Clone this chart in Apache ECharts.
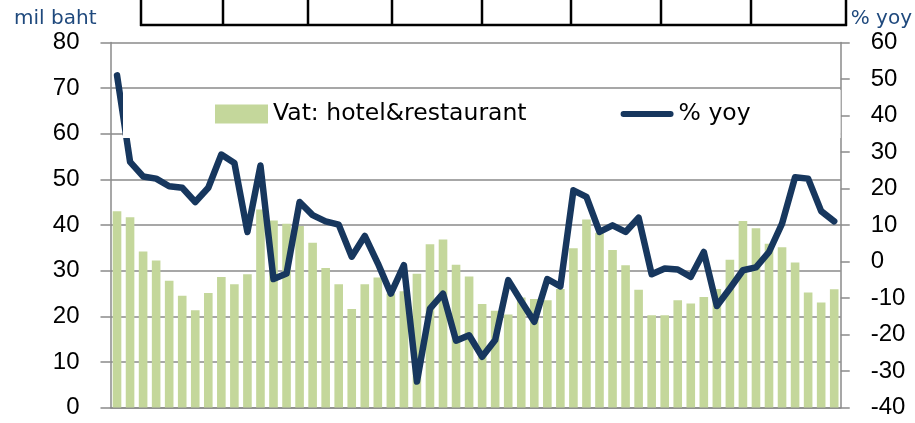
<!DOCTYPE html>
<html>
<head>
<meta charset="utf-8">
<script src="https://cdn.jsdelivr.net/npm/echarts@6/dist/echarts.min.js"></script>
<style>
  html, body { margin: 0; padding: 0; background: #ffffff; }
  #chart { width: 915px; height: 423px; }
</style>
</head>
<body>
<div id="chart"></div>
<script>
// monthly VAT collection, hotel & restaurant (mil baht) and growth (% yoy)
const vat = [43.0, 41.7, 34.2, 32.2, 27.8, 24.5, 21.3, 25.1, 28.6, 27.0,
  29.2, 43.4, 41.0, 40.3, 39.8, 36.1, 30.6, 27.0, 21.6, 27.0,
  28.5, 25.0, 25.5, 29.3, 35.8, 36.8, 31.3, 28.7, 22.7, 21.2,
  20.4, 24.1, 23.8, 23.5, 26.0, 34.9, 41.2, 38.3, 34.5, 31.2,
  25.8, 20.2, 20.2, 23.5, 22.8, 24.2, 26.0, 32.4, 40.9, 39.3,
  35.9, 35.1, 31.8, 25.2, 23.0, 25.9]
const yoy = [51.0, 27.3, 23.3, 22.7, 20.6, 20.2, 16.3, 20.2, 29.3, 27.0,
  8.1, 26.3, -4.8, -3.3, 16.3, 12.7, 11.0, 10.1, 1.3, 7.0,
  -0.5, -8.8, -1.0, -32.9, -12.9, -8.8, -21.7, -20.2, -26.1, -21.5,
  -5.1, -10.9, -16.5, -4.8, -6.8, 19.5, 17.7, 8.1, 9.9, 8.1,
  12.0, -3.5, -1.9, -2.2, -4.2, 2.6, -12.2, -7.4, -2.4, -1.6,
  2.6, 10.4, 23.1, 22.7, 13.8, 11.0]

// month labels (not shown on the axis)
const months = ['Jan', 'Feb', 'Mar', 'Apr', 'May', 'Jun', 'Jul', 'Aug', 'Sep', 'Oct', 'Nov', 'Dec']
const categories = vat.map((v, i) => months[i % 12] + '-' + (14 + Math.floor(i / 12)))

const leftTicks = { min: 0, max: 80, interval: 10 }
const rightTicks = { min: -40, max: 60, interval: 10 }

const gray = '#8a8a8a'
const navy = '#17375e'
const numFont = { fontFamily: 'Liberation Sans', fontSize: 24, color: '#000' }

// header table lines cut off at the top of the picture
const tableCols = [141, 223, 308, 392, 482, 571, 661, 751, 846]
const tableLines = tableCols.map(x => ({
  type: 'line',
  shape: { x1: x, y1: 0, x2: x, y2: 26 },
  style: { stroke: '#000', lineWidth: 2.5 }
}))
tableLines.push({
  type: 'line',
  shape: { x1: 140, y1: 25, x2: 847, y2: 25 },
  style: { stroke: '#000', lineWidth: 2.5 }
})

const chart = echarts.init(document.getElementById('chart'))
chart.setOption({
  animation: false,
  backgroundColor: '#ffffff',
  graphic: tableLines,
  grid: { left: 110.5, right: 74, top: 42.5, bottom: 15.5 },
  legend: {
    left: 123,
    top: 90,
    padding: [12, 90, 12, 92],
    backgroundColor: '#ffffff',
    itemGap: 94,
    itemWidth: 53,
    itemHeight: 19,
    textStyle: { fontFamily: 'DejaVu Sans', fontSize: 23.5, color: '#000' },
    data: [
      { name: 'Vat: hotel&restaurant', icon: 'rect' },
      { name: '% yoy', icon: 'path://M3,0 L50,0 A3,3 0 0 1 50,6 L3,6 A3,3 0 0 1 3,0 Z' }
    ]
  },
  xAxis: {
    type: 'category',
    data: categories,
    axisLine: { lineStyle: { color: gray, width: 1.5 } },
    axisTick: { interval: 5, length: 9, lineStyle: { color: gray, width: 1.5 } },
    axisLabel: { show: false }
  },
  yAxis: [
    {
      type: 'value',
      ...leftTicks,
      name: 'mil baht',
      nameLocation: 'end',
      nameGap: 14,
      nameTextStyle: {
        fontFamily: 'DejaVu Sans', fontSize: 20, color: '#1f497d',
        align: 'right', padding: [0, 14, 0, 0]
      },
      axisLine: { show: true, lineStyle: { color: gray, width: 1.5 } },
      axisTick: { show: true, length: 10, lineStyle: { color: gray, width: 1.5 } },
      axisLabel: { ...numFont, margin: 31 },
      splitLine: { show: true, lineStyle: { color: gray, width: 1.5 } }
    },
    {
      type: 'value',
      position: 'right',
      ...rightTicks,
      name: '% yoy',
      nameLocation: 'end',
      nameGap: 14,
      nameTextStyle: {
        fontFamily: 'DejaVu Sans', fontSize: 20, color: '#1f497d',
        align: 'left', padding: [0, 0, 0, 10]
      },
      axisLine: { show: true, lineStyle: { color: gray, width: 1.5 } },
      axisTick: { show: true, length: 9, lineStyle: { color: gray, width: 1.5 } },
      axisLabel: { ...numFont, margin: 30 },
      splitLine: { show: false }
    }
  ],
  series: [
    {
      name: 'Vat: hotel&restaurant',
      type: 'bar',
      data: vat,
      barCategoryGap: '34%',
      itemStyle: { color: '#c4d79b' }
    },
    {
      name: '% yoy',
      type: 'line',
      yAxisIndex: 1,
      data: yoy,
      symbol: 'none',
      lineStyle: { color: navy, width: 6.5, cap: 'round', join: 'round' },
      itemStyle: { color: navy }
    }
  ]
})
</script>
</body>
</html>
